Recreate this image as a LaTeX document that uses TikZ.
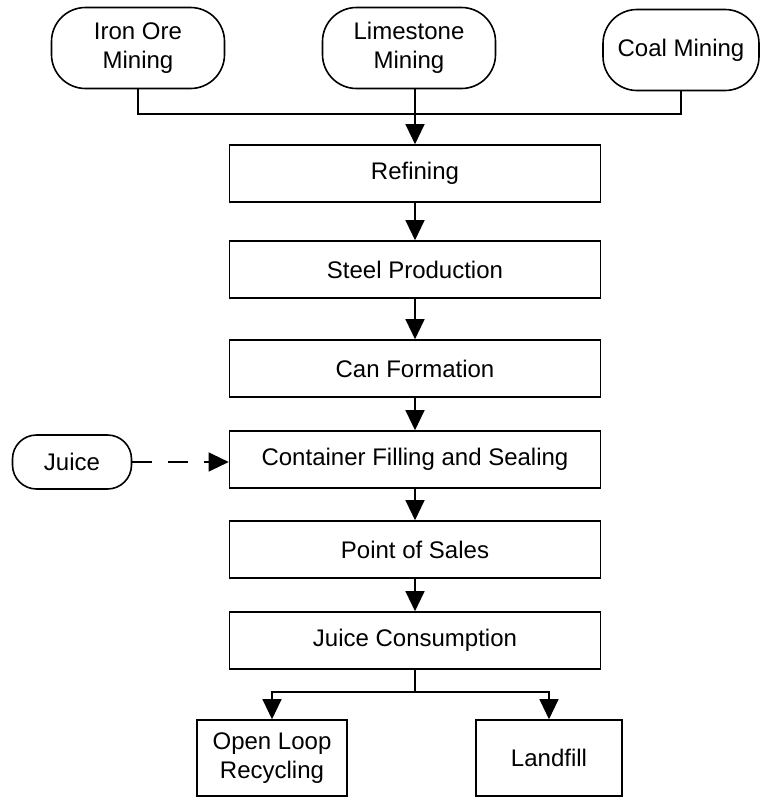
\documentclass[tikz,border=0pt]{standalone}
\usepackage{fontspec}
\setmainfont{Liberation Sans}
\usetikzlibrary{arrows.meta}
\begin{document}
\begin{tikzpicture}[x=1pt,y=-1pt,
  every node/.style={font=\fontsize{24}{29}\selectfont, align=center, inner sep=0pt},
  box/.style={draw, line width=1.6pt},
  stage/.style={box, rectangle, minimum width=371pt, minimum height=57pt},
  source/.style={box, rounded corners=34pt, minimum height=81pt},
  outlet/.style={box, rectangle, minimum height=76pt},
  link/.style={line width=1.2pt},
  flow/.style={link, -{Triangle[length=20pt,width=19pt]}}
]
\useasboundingbox (0,0) rectangle (761,798);

% raw material sources
\node[source, minimum width=173pt] (iron) at (138,48) {Iron Ore\\Mining};
\node[source, minimum width=173pt] (lime) at (409,48) {Limestone\\Mining};
\node[source, minimum width=156pt] (coal) at (681,50) {Coal Mining};

% main production chain
\node[stage] (ref)   at (415,173.5) {Refining};
\node[stage] (steel) at (415,269.5) {Steel Production};
\node[stage] (can)   at (415,368.5) {Can Formation};
\node[stage] (fill)  at (415,459.5) {Container Filling and Sealing};
\node[stage] (pos)   at (415,549.5) {Point of Sales};
\node[stage] (cons)  at (415,640.5) {Juice Consumption};

% side input
\node[box, rounded corners=24pt, minimum width=119pt, minimum height=54pt] (juice) at (72,462) {Juice};

% end of life
\node[outlet, minimum width=150pt] (olr)  at (272,758) {Open Loop\\Recycling};
\node[outlet, minimum width=146pt] (land) at (549,758) {Landfill};

% gathering the sources
\coordinate (merge) at (ref.north |- 0,114);
\draw[link] (iron.south) -- (iron.south |- merge) -- (coal.south |- merge) -- (coal.south);
\draw[flow] (lime.south -| ref.north) -- (ref.north);

% chain arrows
\draw[flow] (ref) -- (steel);
\draw[flow] (steel) -- (can);
\draw[flow] (can) -- (fill);
\draw[flow] (fill) -- (pos);
\draw[flow] (pos) -- (cons);

% juice input
\draw[flow, dash pattern=on 20pt off 16pt] (juice.east) -- (juice.east -| fill.west);

% split after consumption
\coordinate (split) at (cons.south |- 0,692);
\draw[link] (cons.south) -- (split);
\draw[flow] (split) -| (olr.north);
\draw[flow] (split) -| (land.north);
\end{tikzpicture}
\end{document}
